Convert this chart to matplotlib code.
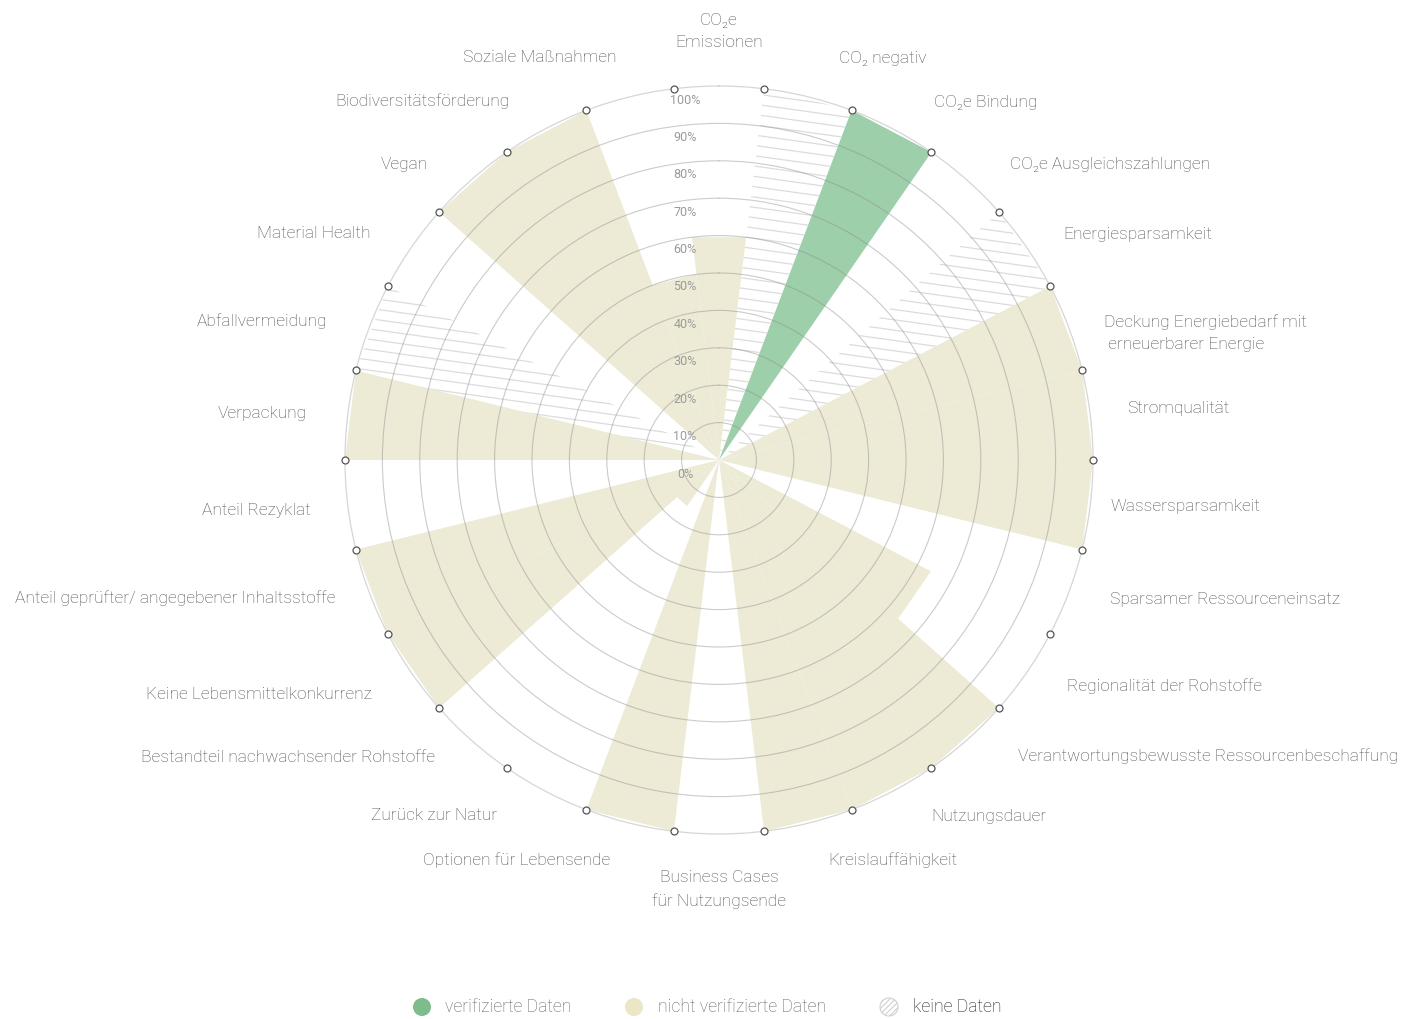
import numpy as np
import matplotlib.pyplot as plt
from matplotlib.collections import LineCollection
from matplotlib.patches import Circle
from matplotlib.transforms import offset_copy

plt.rcParams['font.family'] = ['Roboto', 'DejaVu Sans']
plt.rcParams['hatch.color'] = '#d0d0d0'
plt.rcParams['hatch.linewidth'] = 0.8

# Kategorien im Uhrzeigersinn, beginnend oben
kategorien = [
    "CO₂e\nEmissionen", "CO₂ negativ", "CO₂e Bindung", "CO₂e Ausgleichszahlungen",
    "Energiesparsamkeit", "Deckung Energiebedarf mit\n erneuerbarer Energie",
    "Stromqualität", "Wassersparsamkeit", "Sparsamer Ressourceneinsatz",
    "Regionalität der Rohstoffe", "Verantwortungsbewusste Ressourcenbeschaffung",
    "Nutzungsdauer", "Kreislauffähigkeit", "Business Cases\nfür Nutzungsende",
    "Optionen für Lebensende", "Zurück zur Natur",
    "Bestandteil nachwachsender Rohstoffe", "Keine Lebensmittelkonkurrenz",
    "Anteil geprüfter/ angegebener Inhaltsstoffe", "Anteil Rezyklat",
    "Verpackung", "Abfallvermeidung", "Material Health", "Vegan",
    "Biodiversitätsförderung", "Soziale Maßnahmen",
]
# Werte in Prozent (nan = keine Daten)
werte = [60, np.nan, 100, 0, np.nan, 100, 100, 100, 0, 64, 100, 100, 100,
         0, 100, 0, 15, 100, 100, 0, 100, np.nan, 0, 100, 100, 50]
# v = verifiziert, n = nicht verifiziert, k = keine Daten
status = ['n', 'k', 'v', 'n', 'k', 'n', 'n', 'n', 'n', 'n', 'n', 'n', 'n',
          'n', 'n', 'n', 'n', 'n', 'n', 'n', 'n', 'k', 'n', 'n', 'n', 'n']
prozent = [0, 10, 20, 30, 40, 50, 60, 70, 80, 90, 100]

# Feinjustierung der Beschriftungen (Winkelversatz in Grad, Abstand in %)
label_dw = [0, 2.8, 3.3, 3.0, 1.3, 2.5, -0.3, -0.2, -1.2, -1.6, -3.7, -3.1, -1.4,
            0, 1.4, 4.3, 2.1, 0.6, 0.9, -0.1, -0.5, -1.3, -1.6, -3.0, -2.6, -0.4]
label_r = [114.5, 112, 111.5, 111, 110, 108.5, 110, 105.5, 111, 111, 112.5, 111, 111,
           114.8, 111, 112, 110, 112, 109, 110, 111, 111, 111, 111, 111, 111]

farben = {'v': '#9dcfaa', 'n': '#edebd6'}
legende = [('verifizierte Daten', '#7dbd8c', '#666666'),
           ('nicht verifizierte Daten', '#ebe6c6', '#666666'),
           ('keine Daten', None, '#1e1e1e')]

n = len(kategorien)
schritt = 2 * np.pi / n
winkel = np.arange(n) * schritt
grenzen = winkel + schritt / 2

fig = plt.figure(figsize=(14.07, 10.19), dpi=100)
ax = fig.add_axes([345 / 1407, 185 / 1019, 748 / 1407, 748 / 1019], projection='polar')
ax.set_theta_zero_location('N')
ax.set_theta_direction(-1)
ax.set_ylim(0, 100)

# Segmente als Dreiecke mit geraden Außenkanten
for w, v, s in zip(winkel, werte, status):
    a, b = w - schritt / 2, w + schritt / 2
    if s == 'k':
        poly, = ax.fill([a, a, b], [0, 100, 100], facecolor='none', edgecolor='none')
        c = np.arange(-0.3, 1.35, 0.0138)
        segs = [[(0, ci), (1, ci - 0.14)] for ci in c]
        lc = LineCollection(segs, transform=ax.transAxes, colors='#dcdcdc', linewidths=0.9)
        lc.set_clip_path(poly)
        ax.add_collection(lc, autolim=False)
    elif v > 0:
        ax.fill([a, a, b], [0, v, v], facecolor=farben[s], edgecolor='none', zorder=1)

ax.set_xticks([])
ax.set_rticks(prozent[1:-1])
ax.set_yticklabels([])
ax.yaxis.grid(True, color='#8c8c8c', alpha=0.45, linewidth=0.8)
ax.set_axisbelow(False)
ax.spines['polar'].set_color('#d6d6d6')
ax.spines['polar'].set_linewidth(0.9)

# Prozentbeschriftung
tick_trans = offset_copy(ax.transData, fig=fig, x=-34, y=-14, units='dots')
for p in prozent:
    ax.text(0, p, f'{p}%', transform=tick_trans, ha='center', va='center',
            fontsize=9, color='#9a9a9a', zorder=6)

# Punkte an den Segmentgrenzen
ax.plot(grenzen, [100] * n, 'o', ms=5, mfc='white', mec='#555555', mew=0.9,
        clip_on=False, zorder=7)

# Kategoriebeschriftungen
for w, label, dw, r in zip(winkel, kategorien, label_dw, label_r):
    grad = np.degrees(w)
    if np.isclose(grad, 0) or np.isclose(grad, 180):
        ha = 'center'
    elif grad < 180:
        ha = 'left'
    else:
        ha = 'right'
    ax.text(w + np.radians(dw), r, label, ha=ha, va='center', fontsize=12.5,
            color='#505050', fontweight='light', linespacing=1.6, clip_on=False)

# Legende
lax = fig.add_axes([0, 0, 1, 30 / 1019])
lax.set_xlim(0, 1407)
lax.set_ylim(0, 30)
lax.axis('off')
xs = [(422, 445), (634, 658), (889, 913)]
for (cx, tx), (txt, fc, tc) in zip(xs, legende):
    if fc is None:
        lax.add_patch(Circle((cx, 12), 9, facecolor='white', edgecolor='#d0d0d0',
                             hatch='//////', linewidth=0.8))
    else:
        lax.add_patch(Circle((cx, 12), 9, facecolor=fc, edgecolor='none'))
    lax.text(tx, 12, txt, ha='left', va='center', fontsize=12.7, color=tc,
             fontweight='light')

fig.savefig('out.png', dpi=100)
